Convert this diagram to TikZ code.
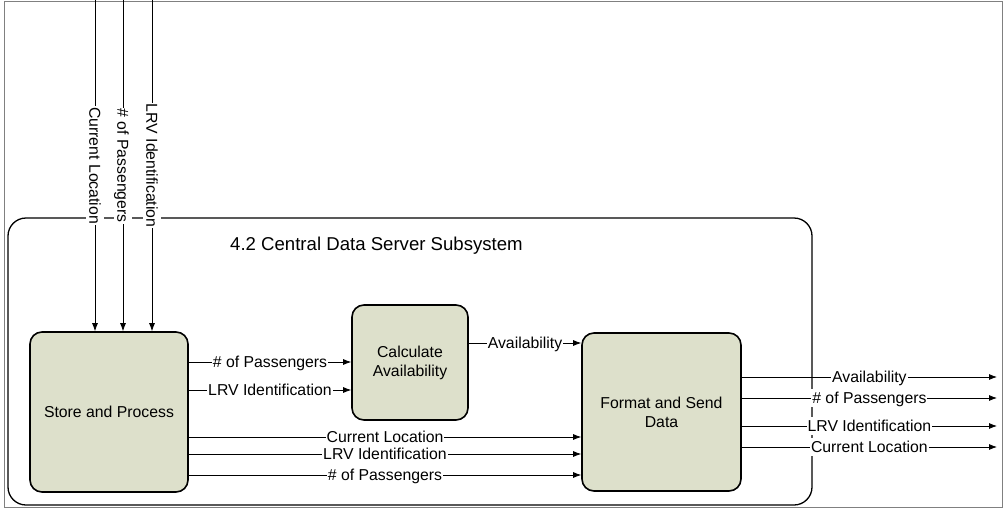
\documentclass[tikz,border=0pt]{standalone}
\usepackage{fontspec}
\setmainfont{Liberation Sans}
\usetikzlibrary{arrows.meta}

\definecolor{boxfill}{HTML}{DDE0CB}

\begin{document}
\begin{tikzpicture}[x=1pt,y=-1pt,
  every node/.style={font=\fontsize{15.8}{19}\selectfont},
  sysbox/.style={draw=black, line width=1.3pt, rounded corners=18pt, inner sep=0pt},
  block/.style={draw=black, line width=1.6pt, fill=boxfill, rounded corners=12pt, align=center, inner sep=0pt},
  flow/.style={-{Latex[length=8pt,width=6pt]}, line width=0.8pt},
  lbl/.style={fill=white, inner sep=1pt, text height=14pt, text depth=2.7pt}]
  \useasboundingbox (0,0) rectangle (1005,509);
  \draw [gray, line width=1pt] (4.5,1) rectangle (1002,507.5);

  % subsystem
  \node [sysbox, minimum width=804pt, minimum height=287pt] (sys) at (410,361.5) {};
  \node [anchor=base west, inner sep=0pt, font=\fontsize{18.6}{22}\selectfont] (title) at (230,250) {4.2 Central Data Server Subsystem};

  % blocks
  \node [block, minimum width=158pt, minimum height=160pt] (store) at (109,412) {Store and Process};
  \node [block, minimum width=116pt, minimum height=115pt] (calc) at (410,362.5) {Calculate\\Availability};
  \node [block, minimum width=159pt, minimum height=158pt] (fmt) at (661.5,412) {Format and Send\\Data};

  % inputs from the top
  \coordinate (inLoc) at (95,0);
  \coordinate (inPass) at (123,0);
  \coordinate (inLRV) at (152,0);
  \draw [flow] (inLoc) -- node [lbl, rotate=-90] {Current Location} (inLoc |- store.north);
  \draw [flow] (inPass) -- node [lbl, rotate=-90] {\# of Passengers} (inPass |- store.north);
  \draw [flow] (inLRV) -- node [lbl, rotate=-90] {LRV Identification} (inLRV |- store.north);

  % store -> calc
  \draw [flow] (store.east |- 0,362) -- node [lbl] {\# of Passengers} (calc.west |- 0,362);
  \draw [flow] (store.east |- 0,390) -- node [lbl] {LRV Identification} (calc.west |- 0,390);

  % calc -> fmt
  \draw [flow] (calc.east |- 0,343) -- node [lbl] {Availability} (fmt.west |- 0,343);

  % store -> fmt
  \draw [flow] (store.east |- 0,437) -- node [lbl] {Current Location} (fmt.west |- 0,437);
  \draw [flow] (store.east |- 0,454) -- node [lbl] {LRV Identification} (fmt.west |- 0,454);
  \draw [flow] (store.east |- 0,475) -- node [lbl] {\# of Passengers} (fmt.west |- 0,475);

  % outputs
  \coordinate (outAvail) at (997,377);
  \coordinate (outPass) at (997,398);
  \coordinate (outLRV) at (997,426);
  \coordinate (outLoc) at (997,447);
  \draw [flow] (fmt.east |- outAvail) -- node [lbl] {Availability} (outAvail);
  \draw [flow] (fmt.east |- outPass) -- node [lbl] {\# of Passengers} (outPass);
  \draw [flow] (fmt.east |- outLRV) -- node [lbl] {LRV Identification} (outLRV);
  \draw [flow] (fmt.east |- outLoc) -- node [lbl] {Current Location} (outLoc);
\end{tikzpicture}
\end{document}
